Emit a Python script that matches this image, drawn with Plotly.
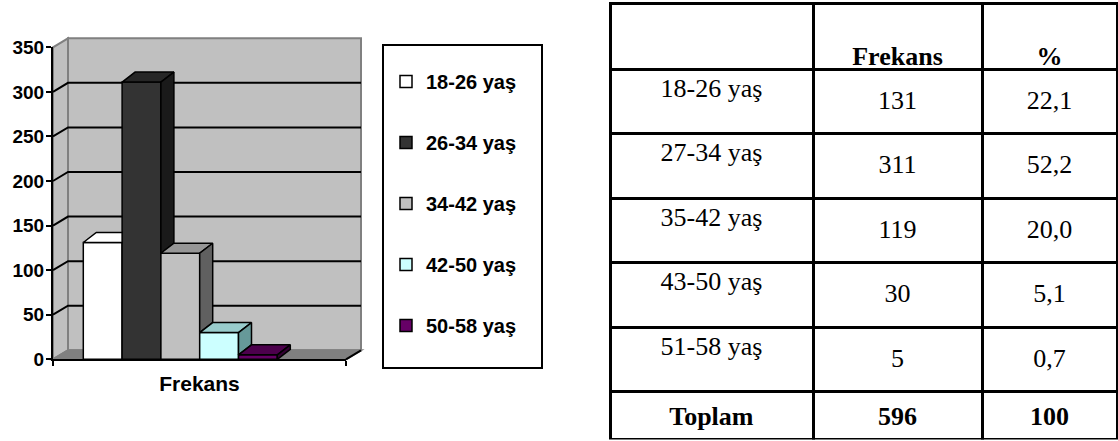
import plotly.graph_objects as go

# ---------------------------------------------------------------- data
legend_groups = ["18-26 yaş", "26-34 yaş", "34-42 yaş", "42-50 yaş", "50-58 yaş"]
table_groups = ["18-26 yaş", "27-34 yaş", "35-42 yaş", "43-50 yaş", "51-58 yaş"]
frequency = [131, 311, 119, 30, 5]
percent = [22.1, 52.2, 20.0, 5.1, 0.7]
category = "Frekans"
table_header = ["", "Frekans", "%"]
total_label = "Toplam"
total_frequency = 596
total_percent = 100
y_ticks = [0, 50, 100, 150, 200, 250, 300, 350]

# ---------------------------------------------------------------- styles
front_colors = ["#ffffff", "#333333", "#c0c0c0", "#ccffff", "#660066"]
top_colors = ["#ffffff", "#262626", "#969696", "#99cccc", "#4c004c"]
side_colors = ["#808080", "#1a1a1a", "#606060", "#669999", "#330033"]
WALL = "#c0c0c0"
FLOOR = "#808080"
EDGE = "#808080"
SANS = "Liberation Sans, Arial, sans-serif"
SERIF = "Liberation Serif, Times New Roman, serif"

W, H = 1118, 441

# chart plot box (pixels) and value range
AX_L, AX_R, AX_T, AX_B = 53, 346, 47.3, 359.3
Y_MAX = 350
X0, X1 = -0.5, 0.5
PX_PER_X = (AX_R - AX_L) / (X1 - X0)
PX_PER_Y = (AX_B - AX_T) / Y_MAX

# bar geometry in data units, 3-D depth of bars and walls
BAR_W = 38.8 / PX_PER_X
FIRST_LEFT = X0 + (83.3 - AX_L) / PX_PER_X
BAR_DX = 13 / PX_PER_X
BAR_DY = 10 / PX_PER_Y
WALL_DX, WALL_DY = 15, 9  # pixels


def to_px(x, v):
    return AX_L + (x - X0) * PX_PER_X, AX_B - v * PX_PER_Y


def paper(xp, yp):
    return xp / W, 1 - yp / H


def poly_path(points, closed=True):
    pts = [paper(*p) for p in points]
    path = "M" + " L".join(f"{a:.5f},{b:.5f}" for a, b in pts)
    return path + " Z" if closed else path


fig = go.Figure()
shapes = []

# ---------------------------------------------------------------- walls and floor
x_left, y_bottom = to_px(X0, 0)
x_right, y_top = to_px(X1, Y_MAX)
back = [(x_left + WALL_DX, y_bottom - WALL_DY), (x_right + WALL_DX, y_bottom - WALL_DY),
        (x_right + WALL_DX, y_top - WALL_DY), (x_left + WALL_DX, y_top - WALL_DY)]
side = [(x_left, y_bottom), (x_left + WALL_DX, y_bottom - WALL_DY),
        (x_left + WALL_DX, y_top - WALL_DY), (x_left, y_top)]
floor = [(x_left, y_bottom), (x_right, y_bottom),
         (x_right + WALL_DX, y_bottom - WALL_DY), (x_left + WALL_DX, y_bottom - WALL_DY)]
for pts, col in ((back, WALL), (side, WALL), (floor, FLOOR)):
    shapes.append(dict(type="path", xref="paper", yref="paper", layer="below",
                       path=poly_path(pts), fillcolor=col, line=dict(color=EDGE, width=2)))
shapes.append(dict(type="path", xref="paper", yref="paper", layer="below",
                   path=poly_path([(x_right, y_bottom), (x_right + WALL_DX, y_bottom - WALL_DY)], False),
                   line=dict(color="black", width=2)))

# gridlines on the side and back walls
for v in y_ticks[1:-1]:
    gx, gy = to_px(X0, v)
    gx2, _ = to_px(X1, v)
    shapes.append(dict(type="path", xref="paper", yref="paper", layer="below",
                       path=poly_path([(gx, gy), (gx + WALL_DX, gy - WALL_DY),
                                       (gx2 + WALL_DX, gy - WALL_DY)], False),
                       line=dict(color="black", width=2)))

# ---------------------------------------------------------------- 3-D columns
n = len(frequency)
for i, (name, v) in enumerate(zip(legend_groups, frequency)):
    left = FIRST_LEFT + i * BAR_W
    right = left + BAR_W
    nxt = frequency[i + 1] if i + 1 < n else 0

    fig.add_trace(go.Bar(
        x=[0], y=[v], width=[BAR_W], offset=[left], name=name, legendgroup=name,
        marker=dict(color=front_colors[i], line=dict(color="black", width=1.5)),
        hoverinfo="skip"))

    # top face; the part hidden behind a taller neighbour is left out
    t = min(max((nxt - v) / BAR_DY, 0), 1)
    if t >= 1:
        tx = [left, left + BAR_DX, right, right, left]
        ty = [v, v + BAR_DY, v + BAR_DY, v, v]
    else:
        tx = [left, left + BAR_DX, right + BAR_DX, right + t * BAR_DX, right, right, left]
        ty = [v, v + BAR_DY, v + BAR_DY, v + t * BAR_DY, v + t * BAR_DY, v, v]
    fig.add_trace(go.Scatter(x=tx, y=ty, mode="lines", fill="toself",
                             fillcolor=top_colors[i], line=dict(color="black", width=1.5),
                             showlegend=False, legendgroup=name, hoverinfo="skip"))

    # right side face, only above the next column
    if v > nxt:
        sx = [right, right + BAR_DX, right + BAR_DX, right, right]
        sy = [nxt, nxt + BAR_DY, v + BAR_DY, v, nxt]
        fig.add_trace(go.Scatter(x=sx, y=sy, mode="lines", fill="toself",
                                 fillcolor=side_colors[i], line=dict(color="black", width=1.5),
                                 showlegend=False, legendgroup=name, hoverinfo="skip"))

# legend frame
LEG_L, LEG_T, LEG_R, LEG_B = 383, 45, 542, 368
shapes.append(dict(type="rect", xref="paper", yref="paper",
                   x0=LEG_L / W, x1=LEG_R / W, y0=1 - LEG_B / H, y1=1 - LEG_T / H,
                   line=dict(color="black", width=2), fillcolor="white", layer="below"))

# ---------------------------------------------------------------- table
col_widths = [203, 169, 135]
TBL_L, TBL_R, TBL_TOP = 610, 1117, 3
HEAD_H, ROW_H, TOTAL_H = 66, 64.5, 47.5
NUM_SHIFT, HEAD_SHIFT, TOTAL_SHIFT = 12, 31, 2
TBL_FONT = dict(family=SERIF, size=26, color="black")
LINE = dict(color="black", width=3)
NO_LINE = dict(color="rgba(0,0,0,0)", width=0)
CLEAR = "rgba(0,0,0,0)"
xdom = [TBL_L / W, TBL_R / W]


def ydom(top, bottom):
    return [max(0, 1 - bottom / H), min(1, 1 - top / H)]


body_bottom = TBL_TOP + HEAD_H + ROW_H * len(table_groups)
blank = [""] * len(table_groups)
pct_text = [f"{p:.1f}".replace(".", ",") for p in percent]

# grid with the row labels
fig.add_trace(go.Table(
    domain=dict(x=xdom, y=ydom(TBL_TOP, body_bottom + 2)), columnwidth=col_widths,
    header=dict(values=["", "", ""], height=HEAD_H, line=LINE, fill_color="white"),
    cells=dict(values=[table_groups, blank, blank], height=ROW_H, line=LINE,
               fill_color="white", align="center", font=TBL_FONT)))

# total row frame
fig.add_trace(go.Table(
    domain=dict(x=xdom, y=ydom(body_bottom, body_bottom + TOTAL_H + 1)), columnwidth=col_widths,
    header=dict(values=["", "", ""], height=TOTAL_H, line=LINE, fill_color="white"),
    cells=dict(values=[[], [], []], line=NO_LINE, fill_color=CLEAR)))

# frequency and percentage columns, set lower in their rows
fig.add_trace(go.Table(
    domain=dict(x=xdom, y=ydom(TBL_TOP + NUM_SHIFT, body_bottom + NUM_SHIFT + 2)),
    columnwidth=col_widths,
    header=dict(values=["", "", ""], height=HEAD_H, line=NO_LINE, fill_color=CLEAR),
    cells=dict(values=[blank, frequency, pct_text], height=ROW_H, line=NO_LINE,
               fill_color=CLEAR, align="center", font=TBL_FONT)))

# column headings, set at the bottom of the heading row
fig.add_trace(go.Table(
    domain=dict(x=xdom, y=ydom(TBL_TOP + HEAD_SHIFT, TBL_TOP + HEAD_SHIFT + HEAD_H + 2)),
    columnwidth=col_widths,
    header=dict(values=[f"<b>{h}</b>" if h else "" for h in table_header], height=HEAD_H,
                line=NO_LINE, fill_color=CLEAR, align="center", font=TBL_FONT),
    cells=dict(values=[[], [], []], line=NO_LINE, fill_color=CLEAR)))

# total row text
fig.add_trace(go.Table(
    domain=dict(x=xdom, y=ydom(body_bottom + TOTAL_SHIFT, body_bottom + TOTAL_SHIFT + TOTAL_H)),
    columnwidth=col_widths,
    header=dict(values=[f"<b>{total_label}</b>", f"<b>{total_frequency}</b>", f"<b>{total_percent}</b>"],
                height=TOTAL_H - 2, line=NO_LINE, fill_color=CLEAR, align="center", font=TBL_FONT),
    cells=dict(values=[[], [], []], line=NO_LINE, fill_color=CLEAR)))

# ---------------------------------------------------------------- layout
fig.update_layout(
    width=W, height=H, autosize=False,
    margin=dict(l=0, r=0, t=0, b=0, pad=0),
    paper_bgcolor="white", plot_bgcolor="rgba(0,0,0,0)",
    barmode="overlay", showlegend=True,
    shapes=shapes,
    font=dict(family=SANS, color="black"),
    xaxis=dict(domain=[AX_L / W, AX_R / W], range=[X0, X1], fixedrange=True, automargin=False,
               showgrid=False, zeroline=False, showline=True, linecolor="black", linewidth=2,
               tickmode="array", tickvals=[0], ticktext=[category], ticks="",
               ticklabelstandoff=4,
               tickfont=dict(family=SANS, size=21, color="black", weight="bold"),
               minor=dict(tickmode="array", tickvals=[X0, X1], ticks="outside",
                          ticklen=5, tickwidth=2, tickcolor="black")),
    yaxis=dict(domain=[1 - AX_B / H, 1 - AX_T / H], range=[0, Y_MAX], fixedrange=True,
               automargin=False,
               showgrid=False, zeroline=False, showline=True, linecolor="black", linewidth=2,
               tickmode="array", tickvals=y_ticks, ticks="outside", ticklen=5, tickwidth=2,
               tickcolor="black", ticklabelstandoff=-2,
               tickfont=dict(family=SANS, size=19, color="black", weight="bold")),
    legend=dict(x=(LEG_L + 3) / W, y=1 - (LEG_T + 17) / H, xanchor="left", yanchor="top",
                bgcolor=CLEAR, borderwidth=0, tracegroupgap=32, traceorder="grouped",
                font=dict(family=SANS, size=20, color="black", weight="bold"),
                itemclick=False, itemdoubleclick=False),
)

fig.write_html("out.html")
